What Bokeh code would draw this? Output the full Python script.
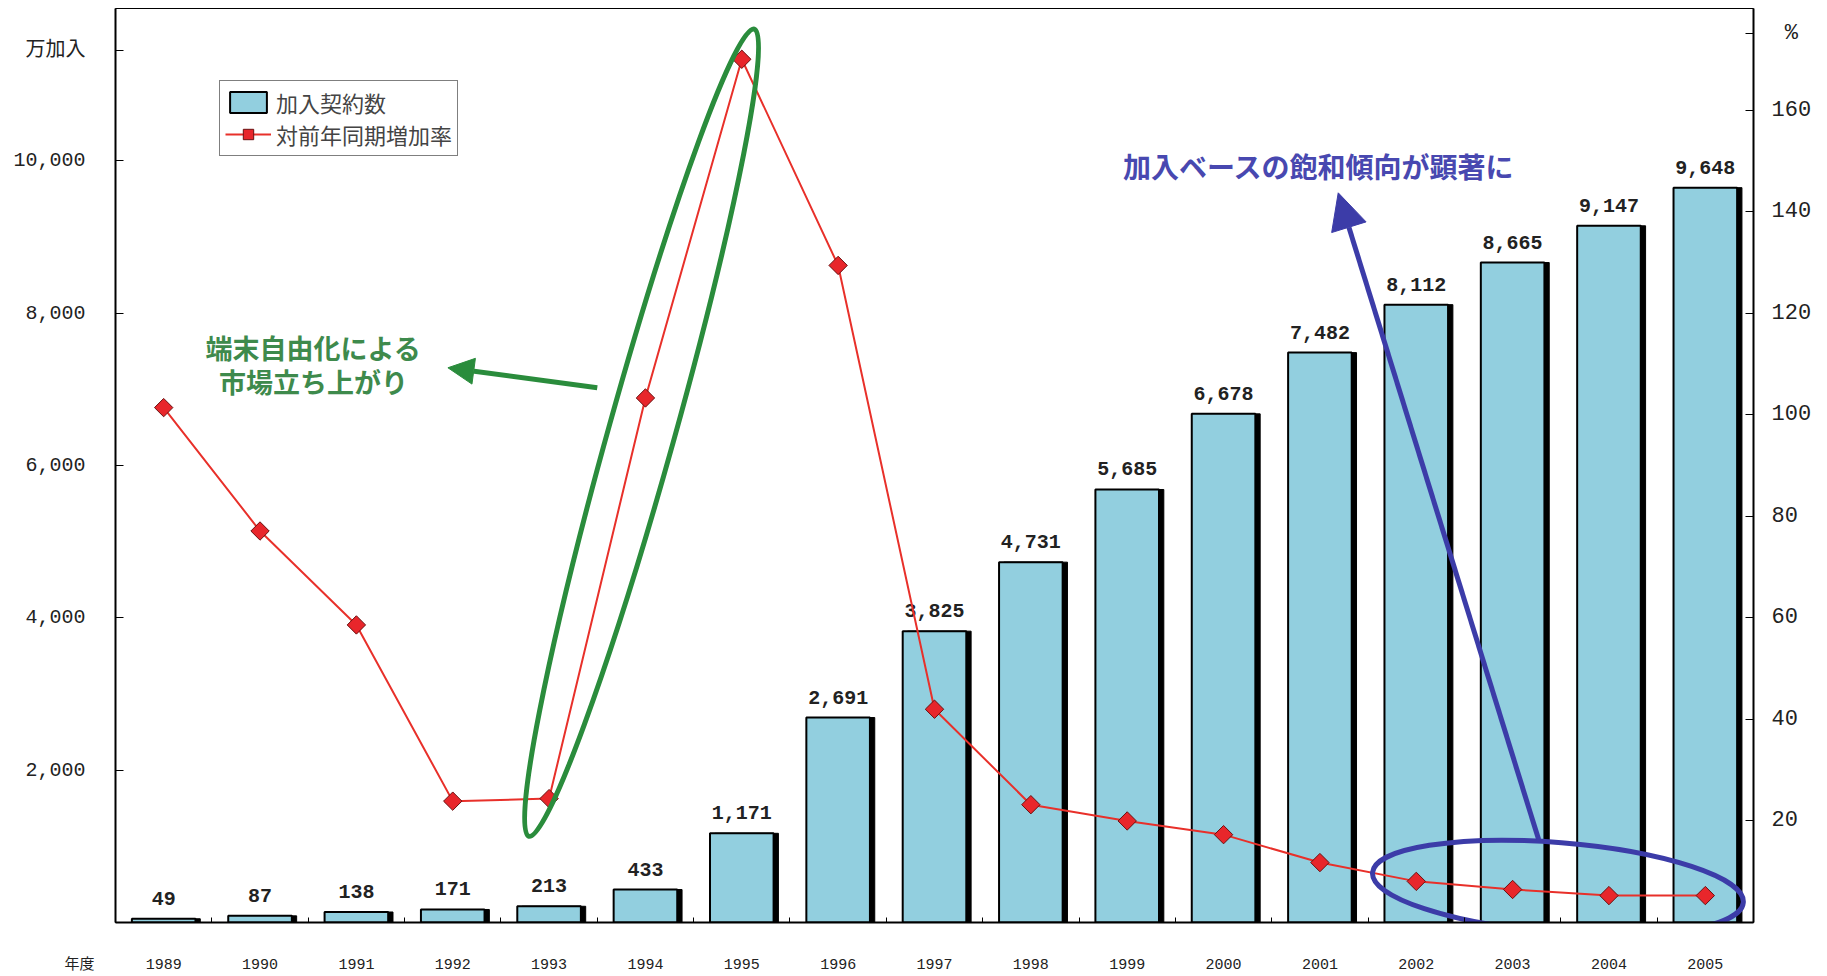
import numpy as np
from bokeh.plotting import figure
from bokeh.models import (Range1d, LinearAxis, FixedTicker, NumeralTickFormatter, Legend, LegendItem,
                          ColumnDataSource, Label, Arrow, NormalHead)
from bokeh.transform import dodge
from bokeh.core.properties import value
from bokeh.embed import file_html
from bokeh.resources import INLINE

years = ["1989", "1990", "1991", "1992", "1993", "1994", "1995", "1996", "1997",
         "1998", "1999", "2000", "2001", "2002", "2003", "2004", "2005"]
subscribers = [49, 87, 138, 171, 213, 433, 1171, 2691, 3825, 4731, 5685, 6678, 7482, 8112, 8665, 9147, 9648]
growth = [101.4, 77.1, 58.6, 23.9, 24.4, 103.3, 170, 129.4, 42, 23.2, 20, 17.3, 11.8, 8.1, 6.5, 5.3, 5.3]
left_ticks = [2000, 4000, 6000, 8000, 10000]
right_ticks = [20, 40, 60, 80, 100, 120, 140, 160]
left_unit = "万加入"
right_unit = "%"
x_unit = "年度"

xs = np.arange(len(years)) + 0.5
src = ColumnDataSource(dict(x=xs, sub=subscribers, g=growth, lab=[f"{v:,}" for v in subscribers]))

JP = "Noto Sans CJK JP"
NUM = "Liberation Mono"
NUMJP = "Liberation Mono, Noto Sans CJK JP"
BAR = "#92cfdf"
GREEN = "#2a8c3c"
BLUE = "#3c3ca8"
NBSP = "\u00a0"

p = figure(width=1827, height=976, output_backend="svg", toolbar_location=None,
           x_range=Range1d(0, len(years)), y_range=Range1d(0, 12000),
           min_border_left=115, min_border_right=74, min_border_top=8, min_border_bottom=54)
p.extra_y_ranges = {"pct": Range1d(0, 180)}
p.xgrid.visible = False
p.ygrid.visible = False
p.outline_line_color = "black"
p.outline_line_width = 1
p.background_fill_color = "white"
p.border_fill_color = "white"

# shadow + bars
p.vbar(x=dodge("x", 0.05), top="sub", width=0.66, source=src, fill_color="black", line_color="black")
bars = p.vbar(x="x", top="sub", width=0.66, source=src, fill_color=BAR, line_color="black", line_width=2)
p.text(x="x", y="sub", text="lab", source=src, text_align="center", text_baseline="bottom",
       y_offset=-14, text_font=value(NUM), text_font_style="bold", text_font_size="20px", text_color="#222222")

line = p.line(x="x", y="g", source=src, y_range_name="pct", line_color="#e8302a", line_width=2)
pts = p.scatter(x="x", y="g", source=src, y_range_name="pct", marker="square", size=13, angle=np.pi / 4,
                fill_color="#e8262b", line_color="#6a1010", line_width=1)

# x axis (the unit "年度" sits at the frame's left edge, padded so it lands left of the first year)
p.xaxis.ticker = FixedTicker(ticks=[0.0] + list(xs), minor_ticks=list(range(len(years) + 1)))
overrides = {float(x): y for x, y in zip(xs, years)}
overrides[0.0] = x_unit + NBSP * 8
p.xaxis.major_label_overrides = overrides
p.xaxis.major_tick_in = 0
p.xaxis.major_tick_out = 0
p.xaxis.minor_tick_in = 5
p.xaxis.minor_tick_out = 0
p.xaxis.axis_line_width = 2
p.xaxis.major_label_standoff = 34
p.xaxis.major_label_text_font = NUMJP
p.xaxis.major_label_text_font_size = "15px"
p.xaxis.major_label_text_color = "#222222"

unit_tick_left = 11444
p.yaxis.ticker = FixedTicker(ticks=left_ticks + [unit_tick_left])
p.yaxis.formatter = NumeralTickFormatter(format="0,0")
p.yaxis.major_label_overrides = {unit_tick_left: left_unit}
p.yaxis.major_tick_in = 8
p.yaxis.major_tick_out = 0
p.yaxis.minor_tick_line_color = None
p.yaxis.axis_line_width = 2
p.yaxis.major_label_standoff = 30
p.yaxis.major_label_text_font = NUMJP
p.yaxis.major_label_text_font_size = "20px"
p.yaxis.major_label_text_color = "#222222"

unit_tick_right = 175
ax2 = LinearAxis(y_range_name="pct", ticker=FixedTicker(ticks=right_ticks + [unit_tick_right]))
ax2.major_label_overrides = {unit_tick_right: NBSP + right_unit}
ax2.major_tick_in = 8
ax2.major_tick_out = 0
ax2.minor_tick_line_color = None
ax2.axis_line_width = 2
ax2.major_label_standoff = 18
ax2.major_label_text_font = NUM
ax2.major_label_text_font_size = "22px"
ax2.major_label_text_color = "#222222"
p.add_layout(ax2, "right")

# legend
legend = Legend(items=[LegendItem(label="加入契約数", renderers=[bars]),
                       LegendItem(label="対前年同期増加率", renderers=[line, pts])],
                location=(104, 766), label_text_font=JP, label_text_font_size="22px",
                border_line_color="black", border_line_width=1, padding=5, spacing=0,
                glyph_width=46, glyph_height=26, label_height=26, margin=0,
                background_fill_alpha=1)
p.add_layout(legend, "center")

# annotations
p.ellipse(x=[5.46], y=[6430], width=[838], height=[66], angle=[np.deg2rad(74.4)],
          width_units="screen", height_units="screen", fill_color=None, line_color=GREEN, line_width=5)
p.add_layout(Arrow(end=NormalHead(size=26, fill_color=GREEN, line_color=GREEN),
                   x_start=5.0, y_start=7021, x_end=3.45, y_end=7283, line_color=GREEN, line_width=5))
p.add_layout(Label(x=2.055, y=7546, text="端末自由化による", text_align="center", text_baseline="middle",
                   text_font=JP, text_font_style="bold", text_font_size="27px", text_color="#3e8a4c"))
p.add_layout(Label(x=2.055, y=7100, text="市場立ち上がり", text_align="center", text_baseline="middle",
                   text_font=JP, text_font_style="bold", text_font_size="27px", text_color="#3e8a4c"))

p.ellipse(x=[14.97], y=[459], width=[372], height=[90], angle=[np.deg2rad(-4.6)],
          width_units="screen", height_units="screen", fill_color=None, line_color=BLUE, line_width=5)
p.add_layout(Arrow(end=NormalHead(size=36, fill_color=BLUE, line_color=BLUE),
                   x_start=14.77, y_start=1089, x_end=12.69, y_end=9580, line_color=BLUE, line_width=5))
p.add_layout(Label(x=12.49, y=9934, text="加入ベースの飽和傾向が顕著に", text_align="center", text_baseline="middle",
                   text_font=JP, text_font_style="bold", text_font_size="28px", text_color="#4848b0"))

open("out.html", "w").write(file_html(p, INLINE))
